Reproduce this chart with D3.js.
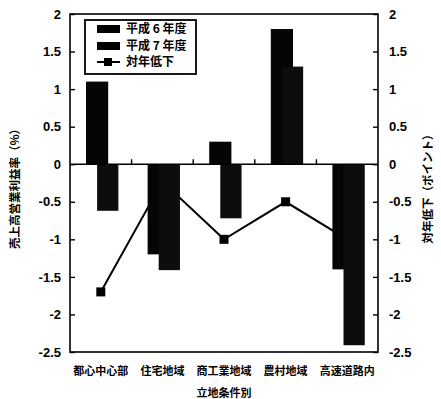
<!DOCTYPE html>
<html><head><meta charset="utf-8">
<script src="https://cdn.jsdelivr.net/npm/d3@7"></script>
<style>body{margin:0;background:#fff}</style>
</head><body>
<svg id="c" width="441" height="399"></svg>
<script>
const categories = ["都心中心部","住宅地域","商工業地域","農村地域","高速道路内"];
const seriesH6 = [1.1, -1.2, 0.3, 1.8, -1.4];
const seriesH7 = [-0.62, -1.41, -0.72, 1.3, -2.41];
const seriesDrop = [-1.7, -0.23, -1.0, -0.5, -1.0];
const seriesNames = ["平成 6 年度","平成 7 年度","対年低下"];
const yTicks = [2,1.5,1,0.5,0,-0.5,-1,-1.5,-2,-2.5];

const svg = d3.select("#c");
const L=70, R=378, T=14, B=352;
const x = d3.scaleBand().domain(categories).range([L,R]).padding(0);
const y = d3.scaleLinear().domain([-2.5,2]).range([B,T]);
const bw = x.bandwidth();
const numFont = "'Liberation Sans', Arial, sans-serif";
const jpFont = "'Noto Sans CJK JP', sans-serif";

// line behind bars
const lineG = svg.append("g");
lineG.append("path")
  .datum(seriesDrop)
  .attr("fill","none").attr("stroke","#000").attr("stroke-width",2)
  .attr("d", d3.line().x((d,i)=>x(categories[i])+bw/2).y(d=>y(d)));
lineG.selectAll("rect").data(seriesDrop).join("rect")
  .attr("x",(d,i)=>x(categories[i])+bw/2-4.5).attr("y",d=>y(d)-4.5)
  .attr("width",9).attr("height",9).attr("fill","#000");

// bars
const barG = svg.append("g");
categories.forEach((c,i)=>{
  const v1=seriesH6[i], v2=seriesH7[i];
  barG.append("rect").attr("x",x(c)+bw*0.26).attr("width",bw*0.36)
    .attr("y",y(Math.max(0,v1))).attr("height",Math.abs(y(v1)-y(0))).attr("fill","#050505");
  barG.append("rect").attr("x",x(c)+bw*0.44).attr("width",bw*0.345)
    .attr("y",y(Math.max(0,v2))).attr("height",Math.abs(y(v2)-y(0))).attr("fill","#0d0d0d");
});

// frame
svg.append("rect").attr("x",L).attr("y",T).attr("width",R-L).attr("height",B-T)
  .attr("fill","none").attr("stroke","#000").attr("stroke-width",1.6);
// zero line
svg.append("line").attr("x1",L).attr("x2",R).attr("y1",y(0)).attr("y2",y(0))
  .attr("stroke","#000").attr("stroke-width",1.6);
// category boundary ticks
categories.slice(1).forEach(c=>{
  svg.append("line").attr("x1",x(c)).attr("x2",x(c)).attr("y1",y(0)).attr("y2",y(0)-5)
    .attr("stroke","#000").attr("stroke-width",1.4);
});

// left axis
const la = svg.append("g").attr("transform",`translate(${L},0)`)
  .call(d3.axisLeft(y).tickValues(yTicks).tickSize(-5).tickPadding(9).tickFormat(d3.format("")));
// right axis
const ra = svg.append("g").attr("transform",`translate(${R},0)`)
  .call(d3.axisRight(y).tickValues(yTicks).tickSize(-5).tickPadding(11).tickFormat(d3.format("")));
[la,ra].forEach(a=>{
  a.select(".domain").remove();
  a.selectAll(".tick line").attr("stroke","#000").attr("stroke-width",1.4);
  a.selectAll(".tick text").attr("font-family",numFont).attr("font-size",13)
    .attr("fill","#000").attr("font-weight","bold");
});
la.selectAll(".tick text").text(d=>d<0?"-"+Math.abs(d):d);
ra.selectAll(".tick text").text(d=>d<0?"-"+Math.abs(d):d);

// category labels
svg.append("g").selectAll("text").data(categories).join("text")
  .attr("x",c=>x(c)+bw/2).attr("y",375)
  .attr("text-anchor","middle").attr("font-family",jpFont).attr("font-weight","bold")
  .attr("font-size",11).text(d=>d);
svg.append("text").attr("x",(L+R)/2).attr("y",397).attr("text-anchor","middle")
  .attr("font-family",jpFont).attr("font-weight","bold").attr("font-size",11).text("立地条件別");

// axis titles
svg.append("text").attr("transform",`translate(19,${(T+B)/2+3}) rotate(-90)`)
  .attr("text-anchor","middle").attr("font-family",jpFont).attr("font-weight","bold")
  .attr("font-size",11.5).text("売上高営業利益率（%）");
svg.append("text").attr("transform",`translate(432,${(T+B)/2+3}) rotate(-90)`)
  .attr("text-anchor","middle").attr("font-family",jpFont).attr("font-weight","bold")
  .attr("font-size",11.5).text("対年低下（ポイント）");

// legend
const lg = svg.append("g");
lg.append("rect").attr("x",85).attr("y",20).attr("width",111).attr("height",54)
  .attr("fill","#fff").attr("stroke","#000").attr("stroke-width",1.8);
const rows=[29,46,62];
lg.append("rect").attr("x",97).attr("y",rows[0]-4).attr("width",23).attr("height",8).attr("fill","#000");
lg.append("rect").attr("x",97).attr("y",rows[1]-4).attr("width",23).attr("height",8).attr("fill","#000");
lg.append("line").attr("x1",97).attr("x2",120).attr("y1",rows[2]).attr("y2",rows[2]).attr("stroke","#000").attr("stroke-width",2);
lg.append("rect").attr("x",104).attr("y",rows[2]-4).attr("width",8).attr("height",8).attr("fill","#000");
seriesNames.forEach((n,i)=>{
  lg.append("text").attr("x",126).attr("y",rows[i]).attr("dy","0.36em")
    .attr("font-family",jpFont).attr("font-weight","bold").attr("font-size",12).text(n);
});
</script>
</body></html>
